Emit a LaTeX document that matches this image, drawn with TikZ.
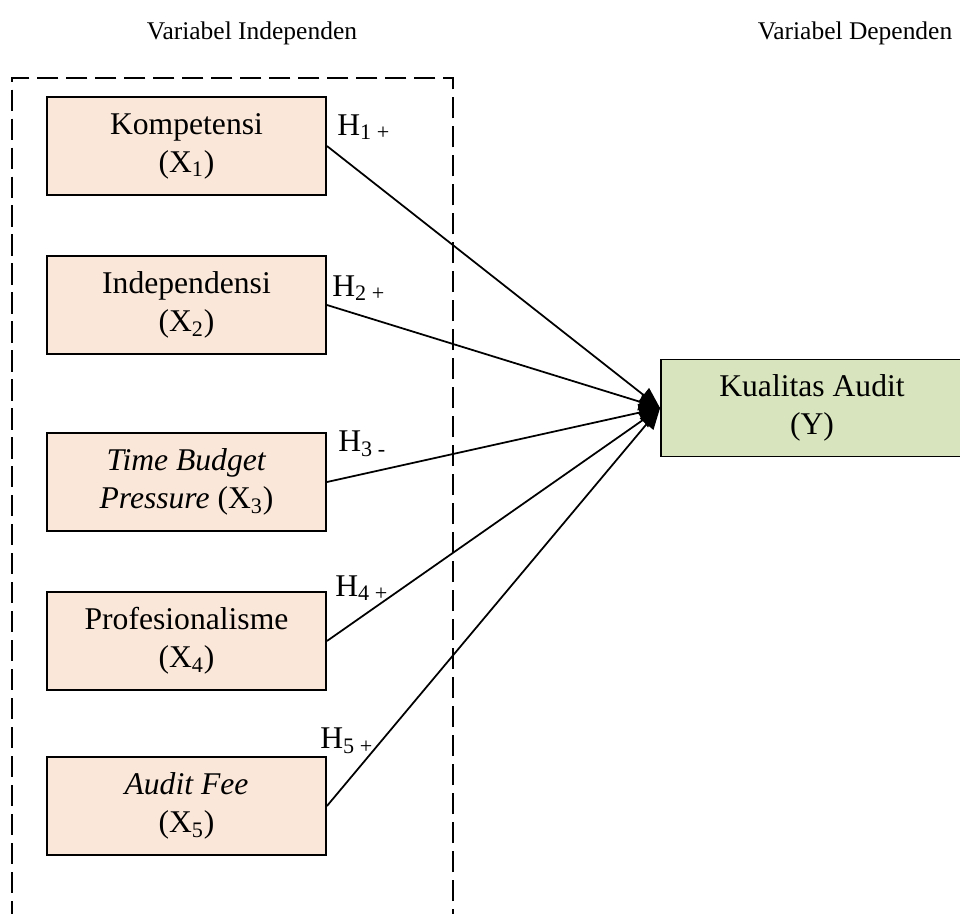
\documentclass[tikz,border=0pt]{standalone}
\usepackage{fontspec}
\setmainfont{Liberation Serif}
\usetikzlibrary{arrows.meta}
\definecolor{peach}{RGB}{251,231,217}
\definecolor{sage}{RGB}{215,228,189}
\tikzset{
  varbox/.style={draw, line width=1.1pt, fill=peach, minimum width=5.58cm,
    minimum height=1.95cm, align=center, inner sep=2pt},
  depbox/.style={draw, line width=1.1pt, fill=sage, minimum width=6.04cm,
    minimum height=1.94cm, align=center, inner sep=2pt},
  heading/.style={font=\fontsize{14.5}{17.4}\selectfont},
  hyp/.style={anchor=west, inner sep=0pt},
  arr/.style={-{Triangle[length=12pt,width=10pt]}, line width=1pt}
}
\begin{document}
\begin{tikzpicture}[x=0.02cm,y=-0.02cm,font=\fontsize{18}{21.6}\selectfont]
\clip (0,0) rectangle (960,913);

% headings
\node[heading] (indep) at (252,33) {Variabel Independen};
\node[heading] (dep) at (855,33) {Variabel Dependen};

% outline
\draw[line width=1.7pt, dash pattern=on 12pt off 4.5pt] (453,930) -- (453,78) -- (12,78) -- (12,930);

% variables
\node[varbox] (x1) at (186.5,146) {Kompetensi\\(X\textsubscript{1})};
\node[varbox] (x2) at (186.5,305) {Independensi\\(X\textsubscript{2})};
\node[varbox] (x3) at (186.5,482) {\textit{Time Budget}\\\textit{Pressure} (X\textsubscript{3})};
\node[varbox] (x4) at (186.5,641) {Profesionalisme\\(X\textsubscript{4})};
\node[varbox] (x5) at (186.5,806) {\textit{Audit Fee}\\(X\textsubscript{5})};
\node[depbox] (y) at (812,408) {Kualitas Audit\\(Y)};

% hypotheses
\foreach \i in {1,...,5}
  \draw[arr] (x\i.east) -- (y.west);
\node[hyp] (h1) at (337,127) {H\textsubscript{1 +}};
\node[hyp] (h2) at (332,288) {H\textsubscript{2 +}};
\node[hyp] (h3) at (338,444) {H\textsubscript{3 -}};
\node[hyp] (h4) at (335,588) {H\textsubscript{4 +}};
\node[hyp] (h5) at (320,741) {H\textsubscript{5 +}};
\end{tikzpicture}
\end{document}
